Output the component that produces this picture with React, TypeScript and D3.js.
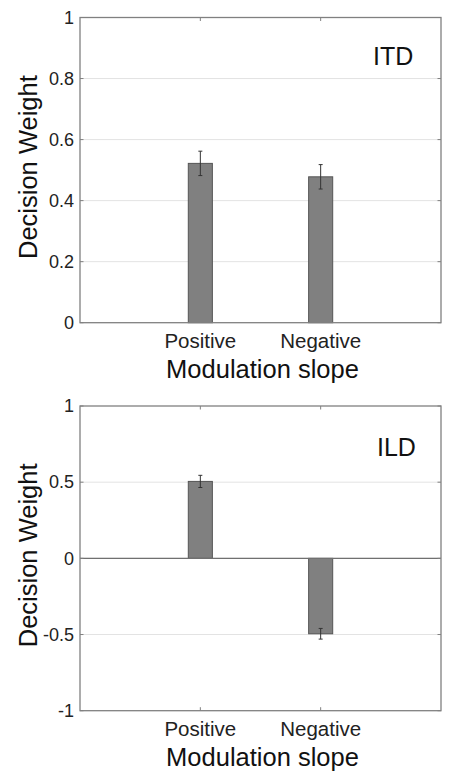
import React from "react";
import * as d3 from "d3";

const categories = ["Positive", "Negative"];
const itdValues = [0.522, 0.478];
const itdErrors = [0.04, 0.04];
const ildValues = [0.505, -0.495];
const ildErrors = [0.04, 0.035];
const itdTicks = [0, 0.2, 0.4, 0.6, 0.8, 1];
const ildTicks = [-1, -0.5, 0, 0.5, 1];

const FONT = "'Liberation Sans', Arial, Helvetica, sans-serif";

type PanelProps = {
  top: number;
  bottom: number;
  domain: [number, number];
  ticks: number[];
  values: number[];
  errors: number[];
  label: string;
  labelX: number;
  labelY: number;
};

function Panel({ top, bottom, domain, ticks, values, errors, label, labelX, labelY }: PanelProps) {
  const left = 80;
  const right = 441;
  const x = d3.scaleLinear().domain([0, 3]).range([left, right]);
  const y = d3.scaleLinear().domain(domain).range([bottom, top]);
  const barW = x(0.2) - x(0);
  const tl = 3.5;
  const boxColor = "#808080";
  return (
    <g>
      {ticks.map((t) =>
        t !== domain[0] && t !== domain[1] ? (
          <line key={"g" + t} x1={left} x2={right} y1={y(t)} y2={y(t)} stroke="#e3e3e3" strokeWidth={1} />
        ) : null
      )}
      {values.map((v, i) => {
        const cx = x(i + 1);
        const y0 = y(Math.max(0, domain[0]));
        return (
          <rect
            key={"b" + i}
            x={cx - barW / 2}
            y={Math.min(y(v), y(0))}
            width={barW}
            height={Math.abs(y(v) - y(0))}
            fill="#808080"
            stroke="#555"
            strokeWidth={1}
          />
        );
      })}
      {domain[0] < 0 ? (
        <line x1={left} x2={right} y1={y(0)} y2={y(0)} stroke="#707070" strokeWidth={1.2} />
      ) : null}
      {values.map((v, i) => {
        const cx = x(i + 1);
        const e = errors[i];
        return (
          <g key={"e" + i} stroke="#333" strokeWidth={1}>
            <line x1={cx} x2={cx} y1={y(v + e)} y2={y(v - e)} />
            <line x1={cx - 2} x2={cx + 2} y1={y(v + e)} y2={y(v + e)} />
            <line x1={cx - 2} x2={cx + 2} y1={y(v - e)} y2={y(v - e)} />
          </g>
        );
      })}
      <rect x={left} y={top} width={right - left} height={bottom - top} fill="none" stroke={boxColor} strokeWidth={1.3} />
      {ticks.map((t) => (
        <g key={"t" + t} stroke={boxColor} strokeWidth={1}>
          <line x1={left} x2={left + tl} y1={y(t)} y2={y(t)} />
          <line x1={right} x2={right - tl} y1={y(t)} y2={y(t)} />
        </g>
      ))}
      {categories.map((c, i) => (
        <g key={"xt" + c} stroke={boxColor} strokeWidth={1}>
          <line x1={x(i + 1)} x2={x(i + 1)} y1={top} y2={top + tl} />
          <line x1={x(i + 1)} x2={x(i + 1)} y1={bottom} y2={bottom - tl} />
        </g>
      ))}
      {ticks.map((t) => (
        <text
          key={"tl" + t}
          x={74}
          y={y(t)}
          dy="0.35em"
          textAnchor="end"
          fontFamily={FONT}
          fontSize={18}
          fill="#222"
        >
          {String(t)}
        </text>
      ))}
      {categories.map((c, i) => (
        <text
          key={"xl" + c}
          x={x(i + 1)}
          y={bottom + 25}
          textAnchor="middle"
          fontFamily={FONT}
          fontSize={20.5}
          fill="#222"
        >
          {c}
        </text>
      ))}
      <text x={(left + right) / 2 + 2} y={bottom + 55} textAnchor="middle" fontFamily={FONT} fontSize={25.5} fill="#111">
        Modulation slope
      </text>
      <text
        transform={`translate(36.5, ${(top + bottom) / 2 - 3}) rotate(-90)`}
        textAnchor="middle"
        fontFamily={FONT}
        fontSize={25.5}
        fill="#111"
      >
        Decision Weight
      </text>
      <text x={labelX} y={labelY} fontFamily={FONT} fontSize={25} fill="#111">
        {label}
      </text>
    </g>
  );
}

export default function App() {
  return (
    <svg
      width={454}
      height={782}
      style={{ position: "absolute", left: 0, top: 0, background: "#fff" }}
    >
      <rect width={454} height={782} fill="#fff" />
      <Panel
        top={17.5}
        bottom={322.7}
        domain={[0, 1]}
        ticks={itdTicks}
        values={itdValues}
        errors={itdErrors}
        label="ITD"
        labelX={373}
        labelY={65}
      />
      <Panel
        top={406}
        bottom={710.7}
        domain={[-1, 1]}
        ticks={ildTicks}
        values={ildValues}
        errors={ildErrors}
        label="ILD"
        labelX={377}
        labelY={456}
      />
    </svg>
  );
}
